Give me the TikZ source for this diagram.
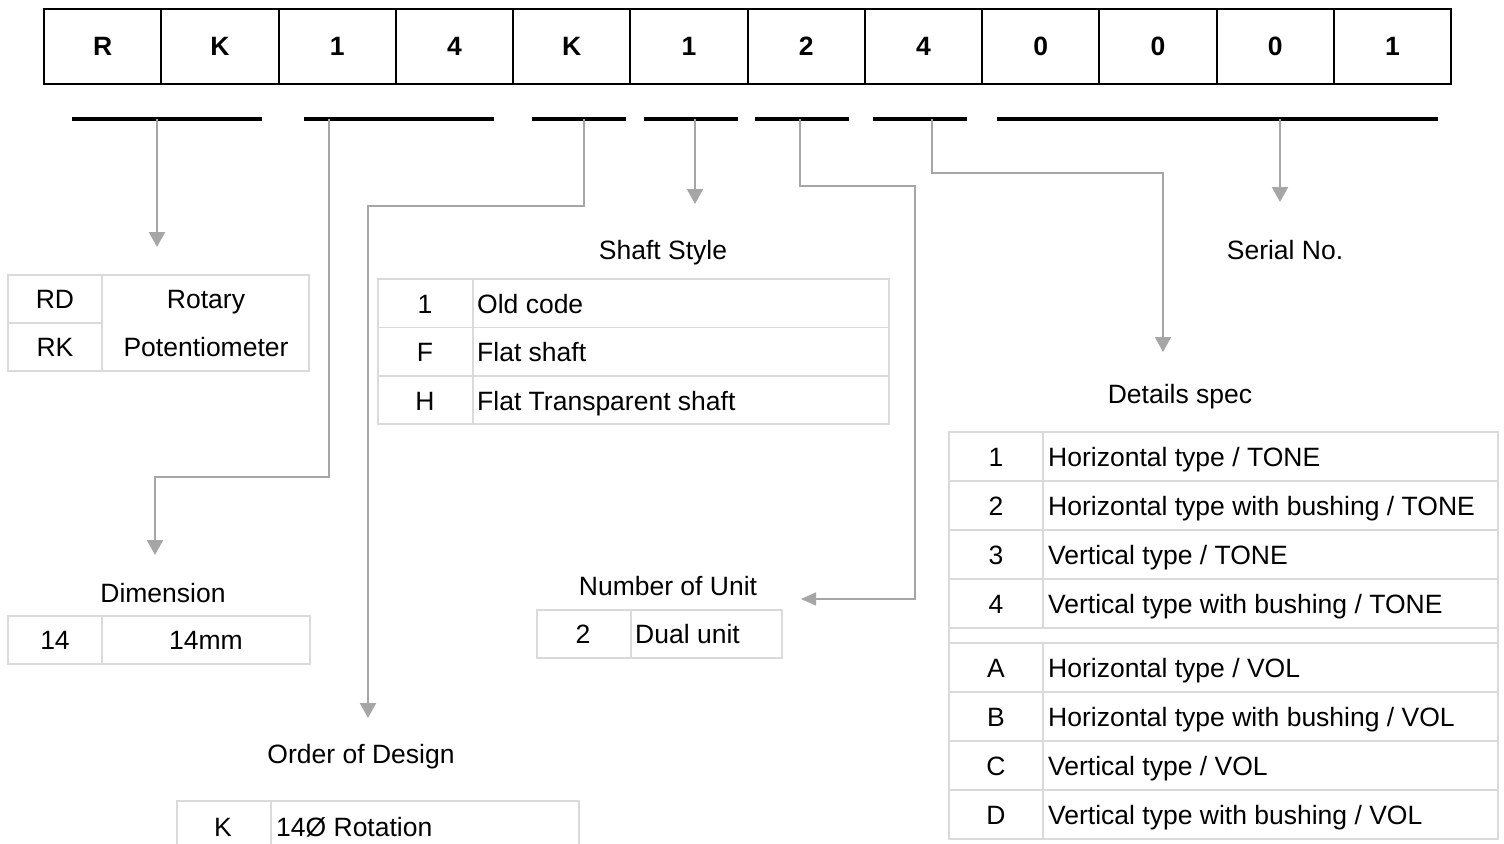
\documentclass[tikz,border=0pt]{standalone}
\usepackage{fontspec}
\setmainfont{Liberation Sans}
\usetikzlibrary{arrows.meta}
\definecolor{arrowgray}{HTML}{A6A6A6}
\definecolor{cellgray}{HTML}{DADADA}
\begin{document}
\begin{tikzpicture}[x=1pt,y=-1pt,
  txt/.style={font=\fontsize{26.5}{31}\selectfont, inner sep=0pt, anchor=base},
  txtl/.style={txt, anchor=base west},
  code/.style={font=\fontsize{26.5}{31}\selectfont\bfseries, inner sep=0pt},
  bar/.style={line width=4.5pt, draw=black},
  conn/.style={draw=arrowgray, line width=2.3pt, -{Triangle[width=16pt,length=15pt]}},
  connthin/.style={draw=arrowgray, line width=1.4pt, -{Triangle[width=13pt,length=15pt]}},
  cell/.style={draw=cellgray, line width=1.2pt},
  frame/.style={draw=black, line width=2pt},
]
\useasboundingbox (0,0) rectangle (1504,843);
\fill[white] (0,0) rectangle (1504,843);
\clip (0,0) rectangle (1504,843);

% top code box
\draw[frame] (44,9) rectangle (1451,84);
\foreach \i in {1,...,11} \draw[frame] (44+117.25*\i,9) -- (44+117.25*\i,84);
\foreach \c [count=\i] in {R,K,1,4,K,1,2,4,0,0,0,1}
  \node[code] (c\i) at (44+117.25*\i-58.625,46) {\c};

% underline bars
\draw[bar] (72,119) -- (262,119);
\draw[bar] (304,119) -- (494,119);
\draw[bar] (532,119) -- (626,119);
\draw[bar] (644,119) -- (738,119);
\draw[bar] (755,119) -- (849,119);
\draw[bar] (873,119) -- (967,119);
\draw[bar] (997,119) -- (1438,119);

% connector coordinates
\coordinate (s1) at (157,119);  \coordinate (t1) at (157,247);
\coordinate (s2) at (329,119);  \coordinate (t2) at (155,555);
\coordinate (s3) at (584,119);  \coordinate (t3) at (368,718);
\coordinate (s4) at (695,119);  \coordinate (t4) at (695,204);
\coordinate (s5) at (800,119);  \coordinate (t5) at (801,599);
\coordinate (s6) at (932,119);  \coordinate (t6) at (1163,352);
\coordinate (s7) at (1280,119); \coordinate (t7) at (1280,202);

\draw[conn] (s1) -- (t1);
\draw[conn] (s2) -- ++(0,358) -| (t2);
\draw[conn] (s3) -- ++(0,87) -| (t3);
\draw[conn] (s4) -- (t4);
\draw[connthin] (s5) -- ++(0,67) -- ++(115,0) |- (t5);
\draw[conn] (s6) -- ++(0,54) -| (t6);
\draw[conn] (s7) -- (t7);

% section labels
\node[txt] (lshaft) at (663,259) {Shaft Style};
\node[txt] (lserial) at (1285,259) {Serial No.};
\node[txt] (ldetails) at (1180,403) {Details spec};
\node[txt] (ldim) at (163,602) {Dimension};
\node[txt] (lunit) at (668,595) {Number of Unit};
\node[txt] (lorder) at (361,763) {Order of Design};

% RD / RK table
\draw[cell] (8,275) rectangle (309,371);
\draw[cell] (102,275) -- (102,371);
\draw[cell] (8,323) -- (102,323);
\node[txt] (rd) at (55,308.5) {RD};
\node[txt] (rk) at (55,356.5) {RK};
\node[txt] (rot) at (206,308.5) {Rotary};
\node[txt] (pot) at (206,356.5) {Potentiometer};

% Dimension table
\draw[cell] (8,616) rectangle (310,664);
\draw[cell] (102,616) -- (102,664);
\node[txt] (d14) at (55,649.5) {14};
\node[txt] (d14mm) at (206,649.5) {14mm};

% Shaft style table
\draw[cell] (378,279) rectangle (889,424);
\draw[cell] (378,327.5) -- (889,327.5);
\draw[cell] (378,376) -- (889,376);
\draw[cell] (473,279) -- (473,424);
\node[txt] (sh1) at (425,313) {1};
\node[txt] (shF) at (425,361.5) {F};
\node[txt] (shH) at (425,410) {H};
\node[txtl] (sh1t) at (477,313) {Old code};
\node[txtl] (shFt) at (477,361.5) {Flat shaft};
\node[txtl] (shHt) at (477,410) {Flat Transparent shaft};

% Number of unit table
\draw[cell] (537,610) rectangle (782,658);
\draw[cell] (631,610) -- (631,658);
\node[txt] (u2) at (583,643.5) {2};
\node[txtl] (u2t) at (635,643.5) {Dual unit};

% Order of design table
\draw[cell] (177,801) rectangle (579,870);
\draw[cell] (271,801) -- (271,870);
\node[txt] (oK) at (223,836) {K};
\node[txtl] (oKt) at (276,836) {14Ø Rotation};

% Details spec table
\draw[cell] (949,432) rectangle (1498,839);
\foreach \y in {481,530,579,628,643,692,741,790}
  \draw[cell] (949,\y) -- (1498,\y);
\draw[cell] (1043,432) -- (1043,628);
\draw[cell] (1043,643) -- (1043,839);
\node[txt] (dk1) at (996,466) {1};
\node[txtl] (dt1) at (1048,466) {Horizontal type / TONE};
\node[txt] (dk2) at (996,515) {2};
\node[txtl] (dt2) at (1048,515) {Horizontal type with bushing / TONE};
\node[txt] (dk3) at (996,564) {3};
\node[txtl] (dt3) at (1048,564) {Vertical type / TONE};
\node[txt] (dk4) at (996,613) {4};
\node[txtl] (dt4) at (1048,613) {Vertical type with bushing / TONE};
\node[txt] (dkA) at (996,677) {A};
\node[txtl] (dtA) at (1048,677) {Horizontal type / VOL};
\node[txt] (dkB) at (996,726) {B};
\node[txtl] (dtB) at (1048,726) {Horizontal type with bushing / VOL};
\node[txt] (dkC) at (996,775) {C};
\node[txtl] (dtC) at (1048,775) {Vertical type / VOL};
\node[txt] (dkD) at (996,824) {D};
\node[txtl] (dtD) at (1048,824) {Vertical type with bushing / VOL};
\end{tikzpicture}
\end{document}
